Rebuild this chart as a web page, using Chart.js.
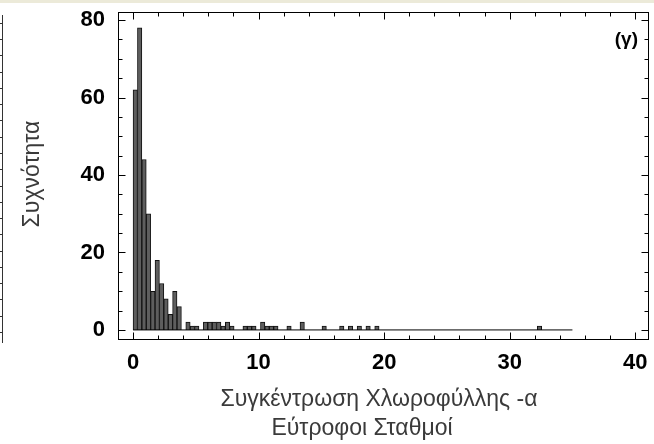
<!DOCTYPE html>
<html>
<head>
<meta charset="utf-8">
<script src="https://cdn.jsdelivr.net/npm/chart.js@4"></script>
<style>
  body { margin: 0; background: #fff; }
  #wrap { width: 654px; height: 444px; position: relative; }
</style>
</head>
<body>
<div id="wrap"><canvas id="hist"></canvas></div>
<script>
// histogram classes: 100 classes of width 0.35 from 0 to 35
const binStart = 0;
const binWidth = 0.35;
const counts = [
  62, 78, 44, 30, 10, 18, 12, 8, 4, 10,
  6, 0, 2, 1, 1, 0, 2, 2, 2, 2,
  1, 2, 1, 0, 0, 1, 1, 1, 0, 2,
  1, 1, 1, 0, 0, 1, 0, 0, 2, 0,
  0, 0, 0, 1, 0, 0, 0, 1, 0, 1,
  0, 1, 0, 1, 0, 1, 0, 0, 0, 0,
  0, 0, 0, 0, 0, 0, 0, 0, 0, 0,
  0, 0, 0, 0, 0, 0, 0, 0, 0, 0,
  0, 0, 0, 0, 0, 0, 0, 0, 0, 0,
  0, 0, 1, 0, 0, 0, 0, 0, 0, 0
];
const xLabelEvery = 10;   // labelled x ticks
const yLabelEvery = 20;   // labelled y ticks
const yTitle = "Συχνότητα";
const xTitle = ["Συγκέντρωση Χλωροφύλλης -α", "Εύτροφοι Σταθμοί"];
const panelTag = "(γ)";

const barData = counts.map((c, i) => ({ x: binStart + i * binWidth + binWidth / 2, y: c }));
const histEnd = binStart + counts.length * binWidth;

const FONT = "'Liberation Sans', Arial, sans-serif";

// frame, inward ticks, titles
const decor = {
  id: "decor",
  beforeDraw(chart) {
    const ctx = chart.ctx;
    ctx.save();
    ctx.fillStyle = "#fff";
    ctx.fillRect(0, 0, chart.width, chart.height);
    ctx.fillStyle = "#ecead9";
    ctx.fillRect(0, 0, chart.width, 3);
    // edge of the neighbouring panel
    ctx.strokeStyle = "#333";
    ctx.lineWidth = 1;
    ctx.beginPath();
    ctx.moveTo(2.5, 15);
    ctx.lineTo(2.5, 343);
    for (let k = 0; k < 20; k++) {
      const yy = Math.round(22.7 + k * 16.28) + 0.5;
      ctx.moveTo(0, yy);
      ctx.lineTo(3, yy);
    }
    ctx.stroke();
    ctx.restore();
  },
  afterDraw(chart) {
    const { ctx, chartArea: a, scales: { x, y } } = chart;
    ctx.save();
    ctx.strokeStyle = "#000";
    ctx.lineWidth = 1;
    const L = Math.round(a.left) + 0.5, R = Math.round(a.right) - 0.5;
    const T = Math.round(a.top) + 0.5, B = Math.round(a.bottom) - 0.5;
    ctx.strokeRect(L, T, R - L, B - T);
    ctx.beginPath();
    x.ticks.forEach(t => {
      const px = Math.round(x.getPixelForValue(t.value)) + 0.5;
      const len = t.value % xLabelEvery === 0 ? 7 : 4;
      ctx.moveTo(px, B); ctx.lineTo(px, B - len);
      ctx.moveTo(px, T); ctx.lineTo(px, T + len);
    });
    y.ticks.forEach(t => {
      const py = Math.round(y.getPixelForValue(t.value)) + 0.5;
      const len = t.value % yLabelEvery === 0 ? 7 : 4;
      ctx.moveTo(L, py); ctx.lineTo(L + len, py);
      ctx.moveTo(R, py); ctx.lineTo(R - len, py);
    });
    ctx.stroke();

    ctx.fillStyle = "#000";
    ctx.font = "bold 19px " + FONT;
    ctx.textAlign = "right";
    ctx.textBaseline = "middle";
    ctx.fillText(panelTag, a.right - 11, a.top + 28);

    ctx.fillStyle = "#3a3a3a";
    ctx.font = "23px " + FONT;
    ctx.textAlign = "center";
    ctx.fillText(xTitle[0], 379, 400);
    ctx.fillText(xTitle[1], 362, 429);
    ctx.translate(33, 174);
    ctx.rotate(-Math.PI / 2);
    ctx.fillText(yTitle, 0, 0);
    ctx.restore();
  }
};

new Chart(document.getElementById("hist"), {
  type: "bar",
  data: {
    datasets: [
      {
        type: "bar",
        data: barData,
        backgroundColor: "#5e5e5e",
        borderColor: "#111",
        borderWidth: 1,
        barPercentage: 1,
        categoryPercentage: 1,
        order: 1
      },
      {
        type: "line",
        data: [{ x: binStart, y: 0 }, { x: histEnd, y: 0 }],
        borderColor: "#000",
        borderWidth: 1,
        pointRadius: 0,
        order: 0
      }
    ]
  },
  plugins: [decor],
  options: {
    responsive: true,
    maintainAspectRatio: false,
    animation: false,
    layout: { padding: { left: 0, right: 5, top: 12, bottom: 0 } },
    plugins: {
      legend: { display: false },
      tooltip: { enabled: false }
    },
    scales: {
      x: {
        type: "linear",
        offset: false,
        min: -1.2,
        max: 41.1,
        grid: { display: false, drawTicks: false, offset: false },
        border: { display: false },
        ticks: {
          stepSize: 2,
          includeBounds: false,
          autoSkip: false,
          maxRotation: 0,
          padding: 10,
          color: "#000",
          font: { family: FONT, size: 22, weight: "bold" },
          callback: v => (v % xLabelEvery === 0 ? v : "")
        },
        afterFit(s) { s.height = 104; s.paddingLeft = 0; s.paddingRight = 0; }
      },
      y: {
        min: -2.6,
        max: 82.1,
        grid: { display: false, drawTicks: false },
        border: { display: false },
        ticks: {
          stepSize: 5,
          includeBounds: false,
          autoSkip: false,
          padding: 13,
          color: "#000",
          font: { family: FONT, size: 22, weight: "bold" },
          callback: v => (v % yLabelEvery === 0 ? v : "")
        },
        afterFit(s) { s.width = 118; s.paddingTop = 0; s.paddingBottom = 0; }
      }
    }
  }
});
</script>
</body>
</html>
